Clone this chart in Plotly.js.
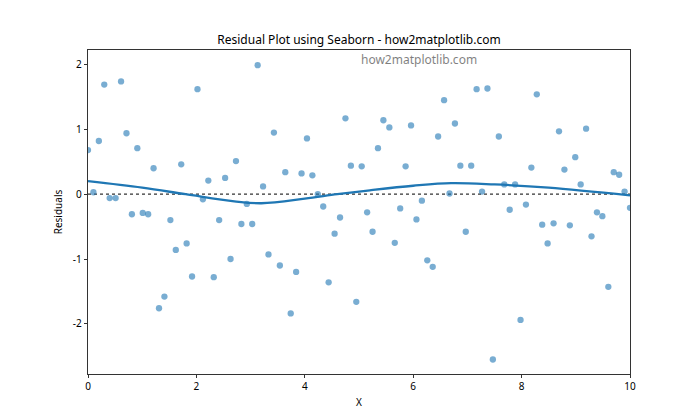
<!DOCTYPE html>
<html>
<head>
<meta charset="utf-8">
<script src="https://cdn.plot.ly/plotly-3.0.1.min.js"></script>
<style>
  body { margin: 0; background: #fff; }
  #plot { width: 700px; height: 420px; }
</style>
</head>
<body>
<div id="plot"></div>
<script>
// x positions of the samples
var xVals = [
  0.00, 0.10, 0.20, 0.30, 0.40, 0.51, 0.61, 0.71, 0.81, 0.91,
  1.01, 1.11, 1.21, 1.31, 1.41, 1.52, 1.62, 1.72, 1.82, 1.92,
  2.02, 2.12, 2.22, 2.32, 2.42, 2.53, 2.63, 2.73, 2.83, 2.93,
  3.03, 3.13, 3.23, 3.33, 3.43, 3.54, 3.64, 3.74, 3.84, 3.94,
  4.04, 4.14, 4.24, 4.34, 4.44, 4.55, 4.65, 4.75, 4.85, 4.95,
  5.05, 5.15, 5.25, 5.35, 5.45, 5.56, 5.66, 5.76, 5.86, 5.96,
  6.06, 6.16, 6.26, 6.36, 6.46, 6.57, 6.67, 6.77, 6.87, 6.97,
  7.07, 7.17, 7.27, 7.37, 7.47, 7.58, 7.68, 7.78, 7.88, 7.98,
  8.08, 8.18, 8.28, 8.38, 8.48, 8.59, 8.69, 8.79, 8.89, 8.99,
  9.09, 9.19, 9.29, 9.39, 9.49, 9.60, 9.70, 9.80, 9.90, 10.00
];

// residuals
var residuals = [
  0.68, 0.03, 0.82, 1.69, -0.06, -0.06, 1.74, 0.94, -0.31, 0.71,
  -0.29, -0.31, 0.40, -1.76, -1.58, -0.40, -0.86, 0.46, -0.76, -1.27,
  1.62, -0.08, 0.21, -1.28, -0.40, 0.25, -1.00, 0.51, -0.46, -0.15,
  -0.46, 1.99, 0.12, -0.93, 0.95, -1.10, 0.34, -1.84, -1.20, 0.32,
  0.86, 0.29, 0.00, -0.19, -1.36, -0.61, -0.36, 1.17, 0.44, -1.66,
  0.43, -0.28, -0.58, 0.71, 1.14, 1.03, -0.75, -0.22, 0.43, 1.06,
  -0.39, -0.10, -1.02, -1.12, 0.89, 1.45, 0.01, 1.09, 0.44, -0.58,
  0.44, 1.62, 0.04, 1.63, -2.55, 0.89, 0.15, -0.24, 0.15, -1.94,
  -0.16, 0.41, 1.54, -0.47, -0.76, -0.45, 0.97, 0.38, -0.48, 0.57,
  0.15, 1.01, -0.65, -0.28, -0.34, -1.43, 0.34, 0.30, 0.04, -0.21
];

// lowess curve
var lowessX = [0, 1, 1.8, 2.7, 3.2, 4, 4.6, 5.2, 6, 6.7, 7.5, 8.5, 10];
var lowessY = [0.20, 0.10, 0.00, -0.11, -0.14, -0.07, 0.00, 0.06, 0.13, 0.17, 0.15, 0.10, -0.02];

var xTicks = [0, 2, 4, 6, 8, 10];
var yTicks = [-2, -1, 0, 1, 2];

var font = "'Noto Sans', 'Open Sans', 'DejaVu Sans', sans-serif";

var scatter = {
  type: "scatter",
  mode: "markers",
  x: xVals,
  y: residuals,
  marker: {
    color: "#1f77b4",
    opacity: 0.6,
    size: 6.3,
    line: { width: 0 }
  },
  hoverinfo: "skip"
};

var lowess = {
  type: "scatter",
  mode: "lines",
  x: lowessX,
  y: lowessY,
  line: { color: "#1f77b4", width: 2.3, shape: "spline", smoothing: 1 },
  hoverinfo: "skip"
};

var zeroLine = {
  type: "scatter",
  mode: "lines",
  x: [0, 10],
  y: [0, 0],
  line: { color: "#333333", width: 1.3, dash: "dot" },
  hoverinfo: "skip"
};

var data = [zeroLine, scatter, lowess];

var layout = {
  width: 700,
  height: 420,
  margin: { l: 88, r: 70, t: 50, b: 46 },
  showlegend: false,
  paper_bgcolor: "#ffffff",
  plot_bgcolor: "#ffffff",
  font: { family: font, color: "#000000", size: 10 },
  title: {
    text: "Residual Plot using Seaborn - how2matplotlib.com",
    font: { family: font, size: 12, color: "#000000" },
    xref: "paper",
    x: 0.5,
    xanchor: "center",
    yref: "container",
    y: 1 - 40 / 420,
    yanchor: "middle"
  },
  xaxis: {
    range: [0, 10],
    tickvals: xTicks,
    ticks: "outside",
    ticklen: 3.5,
    tickwidth: 0.8,
    tickcolor: "#000000",
    showgrid: false,
    zeroline: false,
    showline: true,
    mirror: true,
    linecolor: "#000000",
    linewidth: 0.8,
    tickfont: { size: 10 },
    title: { text: "X", font: { size: 10 }, standoff: 6 }
  },
  yaxis: {
    range: [-2.774, 2.224],
    tickvals: yTicks,
    ticktext: ["-2", "-1", "0", "1", "2"],
    ticks: "outside",
    ticklen: 3.5,
    tickwidth: 0.8,
    tickcolor: "#000000",
    showgrid: false,
    zeroline: false,
    showline: true,
    mirror: true,
    linecolor: "#000000",
    linewidth: 0.8,
    tickfont: { size: 10 },
    title: { text: "Residuals", font: { size: 10 }, standoff: 8 }
  },
  annotations: [
    {
      text: "how2matplotlib.com",
      xref: "paper",
      yref: "paper",
      x: 0.5,
      y: 0.972,
      xanchor: "left",
      yanchor: "middle",
      showarrow: false,
      font: { family: font, size: 12, color: "#000000" },
      opacity: 0.5
    }
  ]
};

var config = { displayModeBar: false, staticPlot: true };

Plotly.newPlot("plot", data, layout, config);
</script>
</body>
</html>
